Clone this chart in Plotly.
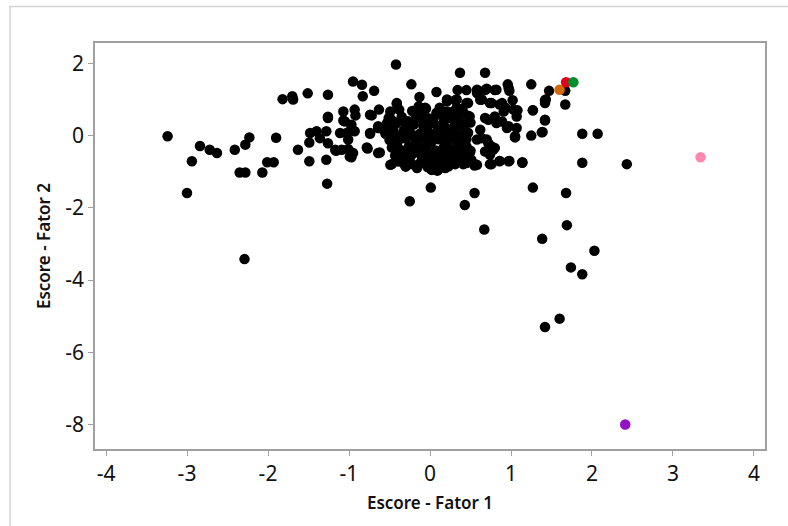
import plotly.graph_objects as go

# Black points: (Escore - Fator 1, Escore - Fator 2)
black_x = [
    -3.24, -3.00, -2.94, -2.84, -2.72, -2.63, -2.41, -2.28, -2.23, -2.35, -2.28, -2.07,
    -2.01, -1.93, -1.90, -1.82, -1.70, -1.69, -1.51, -1.26, -1.26, -1.63, -1.49, -1.28,
    -1.27, -1.48, -1.49, -1.40, -1.36, -1.28, -1.26, -1.17, -1.09, -0.99, -0.95, -1.07,
    -1.05, -0.93, -0.97, -0.99, -1.03, -1.11, -1.01, -0.93, -0.95, -0.84, -0.69, -0.83,
    -0.74, -0.63, -0.74, -0.77, -0.64, -0.42, -0.49, -0.41, -1.16, -1.01, -0.97, -0.78,
    -0.62, -0.74, -0.59, -0.47, -0.31, -0.22, -0.04, 0.09, 0.15, 0.31, 0.41, 0.55,
    0.74, 0.86, 0.98, 1.14, 1.05, 1.25, 1.38, 1.42, 1.27, 1.08, 1.02, 1.67,
    1.42, 1.47, 1.67, 1.25, 0.96, 0.98, 0.80, 0.68, 0.59, 0.45, 0.34, 0.31,
    0.08, -0.13, -0.23, 0.37, 0.68, -0.92, -0.72, -1.07, -1.26, 1.88, 2.07, 1.88,
    2.43, 1.43, 1.42, 1.27, 1.42, 1.39, 1.14, 0.97, 0.86, 0.76, 1.27, 1.68,
    0.01, 0.55, -0.25, 0.43, 1.385, 1.69, 2.03, 1.74, 1.88, 1.42, 1.60, 0.67,
    -2.29, -0.41, -0.14, 0.21, -0.64, -0.51, -0.31, -0.16, 0.02, 0.19, -0.39, 0.58,
    0.70, 0.82, 0.97, 1.03, 1.07, 0.47, 0.64, 0.76, 0.86, 0.93, 0.68, 0.80,
    0.89, 0.97, 1.07, 1.05, 0.72, 0.80, 0.74, 0.68, 0.51, 0.56, 0.43, 0.45,
    0.62, 0.64, 0.35, 0.43, 0.41, 0.27, 0.62, 0.74, 0.89, 0.91, 0.72, 0.82,
    0.95, 0.70, 0.76, 0.78, 0.58, 0.49, 0.49, 0.45, 0.58, 0.21, 0.33, 0.45,
    0.58, 0.12, -0.06, 0.21, 0.33, -0.49, -0.53, -0.64, 0.00, 0.10, 0.43, 0.56,
    -0.38, -0.22, -0.05, 0.12, 0.28, 0.40,
    -0.48, -0.35, -0.27, -0.15, -0.02, 0.08, 0.18, 0.26, 0.36, 0.47,
    -0.52, -0.42, -0.30, -0.20, -0.08, 0.03, 0.13, 0.22, 0.31, 0.42, 0.50,
    -0.55, -0.45, -0.36, -0.25, -0.12, -0.03, 0.06, 0.16, 0.27, 0.37, 0.47,
    -0.50, -0.40, -0.30, -0.18, -0.07, 0.02, 0.11, 0.21, 0.32, 0.41,
    -0.47, -0.36, -0.26, -0.14, -0.04, 0.07, 0.17, 0.28, 0.38, 0.50,
    -0.43, -0.33, -0.22, -0.10, 0.00, 0.09, 0.20, 0.30, 0.40,
    -0.38, -0.25, -0.12, 0.05, 0.14, 0.25, 0.35,
    -0.32, 0.10, -0.15, 0.25, -0.05, 0.20, -0.40, 0.33, -0.10, 0.45, 0.15, -0.28,
    0.00, -0.20, 0.30,
    -0.44, -0.33, -0.21, -0.09, 0.04, 0.17, 0.29, 0.38, -0.46, -0.34, -0.23, -0.11,
    0.01, 0.13, 0.24, 0.35, -0.41, -0.29, -0.17, -0.05, 0.06, 0.19, 0.33, 0.44,
    -0.30, -0.03, 0.23, -0.18, 0.08, 0.36,
]
black_y = [
    -0.02, -1.59, -0.71, -0.29, -0.39, -0.48, -0.39, -0.25, -0.05, -1.02, -1.02, -1.02,
    -0.74, -0.74, -0.06, 1.01, 1.09, 1.00, 1.17, 1.13, 0.52, -0.39, -0.71, -0.67,
    -1.33, 0.07, -0.19, 0.12, -0.07, 0.12, -0.21, -0.39, -0.39, -0.58, -0.48, 0.67,
    0.39, 0.72, 0.30, 0.12, 0.07, 0.07, -0.11, 0.12, 1.50, 1.41, 1.24, 1.09,
    0.58, 0.72, 0.07, -0.36, -0.48, 1.97, -0.81, 0.90, -0.42, -0.37, -0.60, -0.33,
    -0.47, 0.05, 0.19, -0.79, -0.79, -0.79, -0.79, -0.97, -0.79, -0.79, -0.79, -0.83,
    -0.79, -0.70, -0.70, -0.75, -0.05, 0.00, 0.09, 0.42, 0.70, 0.70, 0.98, 0.86,
    0.98, 1.24, 1.24, 1.42, 1.42, 1.24, 1.26, 1.26, 1.21, 1.26, 1.26, 0.98,
    1.21, 1.07, 1.42, 1.74, 1.74, 0.56, 0.56, 0.42, 0.49, 0.05, 0.05, -0.75,
    -0.79, 1.00, 0.90, 0.70, 0.44, 0.10, -0.74, -0.71, -0.71, -0.79, -1.44, -1.59,
    -1.44, -1.59, -1.82, -1.92, -2.86, -2.48, -3.19, -3.65, -3.84, -5.30, -5.07, -2.60,
    -3.42, 0.88, 0.81, 0.95, 0.21, 0.49, -0.81, -0.90, -0.95, -0.90, -0.58, 1.27,
    1.30, 1.27, 1.32, 0.72, 0.53, 0.90, 1.00, 0.90, 0.86, 0.77, 0.49, 0.53,
    0.39, 0.26, 0.21, -0.02, -0.21, -0.34, -0.53, -0.44, -0.67, -0.81, -0.53, -0.30,
    0.16, -0.07, 0.30, 0.30, 0.63, 0.58, 0.99, 0.90, 0.90, 0.67, 0.44, 0.35,
    0.21, -0.11, -0.30, -0.39, -0.11, 0.53, -0.48, -0.76, -0.81, 1.00, 1.00, 0.90,
    1.18, 0.77, 0.77, 0.67, 0.77, 0.67, 0.35, 0.26, -0.90, -0.95, -0.76, -0.81,
    0.72, 0.68, 0.75, 0.70, 0.66, 0.74,
    0.45, 0.52, 0.40, 0.55, 0.48, 0.58, 0.45, 0.52, 0.41, 0.55,
    0.28, 0.33, 0.22, 0.31, 0.25, 0.35, 0.27, 0.18, 0.30, 0.20, 0.36,
    0.05, 0.12, 0.02, 0.10, 0.06, 0.14, 0.03, 0.11, 0.05, -0.02, 0.08,
    -0.12, -0.18, -0.08, -0.15, -0.06, -0.17, -0.10, -0.20, -0.12, -0.22,
    -0.33, -0.40, -0.30, -0.37, -0.29, -0.41, -0.33, -0.38, -0.30, -0.42,
    -0.55, -0.62, -0.52, -0.58, -0.66, -0.53, -0.61, -0.55, -0.63,
    -0.72, -0.70, -0.76, -0.78, -0.70, -0.74, -0.70,
    0.15, 0.20, -0.25, -0.05, 0.40, 0.62, -0.45, 0.55, 0.62, -0.10, -0.48, -0.45,
    0.05, 0.00, 0.15,
    0.38, 0.42, 0.36, 0.44, 0.39, 0.37, 0.43, 0.35, -0.02, -0.05, 0.01, -0.03,
    -0.01, -0.04, 0.00, -0.06, -0.46, -0.49, -0.45, -0.48, -0.47, -0.44, -0.46, -0.50,
    -0.86, -0.87, -0.85, 0.60, 0.63, 0.62,
]

# Highlighted points
hl_x = [1.60, 1.68, 1.77, 3.34, 2.41]
hl_y = [1.27, 1.48, 1.48, -0.60, -8.00]
hl_colors = ["#d26a00", "#e0001a", "#00902e", "#ff88b0", "#9312c4"]

x_ticks = [-4, -3, -2, -1, 0, 1, 2, 3, 4]
y_ticks = [-8, -6, -4, -2, 0, 2]

font_family = "Noto Sans"

fig = go.Figure()
fig.add_trace(go.Scatter(
    x=black_x, y=black_y, mode="markers",
    marker=dict(color="black", size=10.5, line=dict(width=0)),
    hoverinfo="x+y", showlegend=False,
))
fig.add_trace(go.Scatter(
    x=hl_x, y=hl_y, mode="markers",
    marker=dict(color=hl_colors, size=10.5, line=dict(width=0)),
    hoverinfo="x+y", showlegend=False,
))

axis_common = dict(
    showline=True, linecolor="#a0a0a0", linewidth=1.5, mirror=True,
    ticks="outside", ticklen=5, tickwidth=1, tickcolor="#a0a0a0",
    showgrid=False, zeroline=False,
    tickfont=dict(family=font_family, size=21, color="#111111"),
)

fig.update_layout(
    width=788, height=526,
    margin=dict(l=95, r=23, t=43, b=77),
    paper_bgcolor="white", plot_bgcolor="white",
    xaxis=dict(range=[-4.136, 4.136], tickvals=x_ticks,
               ticktext=[str(v) for v in x_ticks],
               title=dict(text="Escore - Fator 1", standoff=11,
                          font=dict(family=font_family, size=17, color="#111111", weight=600)),
               **axis_common),
    yaxis=dict(range=[-8.68, 2.565], tickvals=y_ticks,
               ticktext=[str(v) for v in y_ticks],
               title=dict(text="Escore - Fator 2", standoff=10,
                          font=dict(family=font_family, size=17, color="#111111", weight=600)),
               **axis_common),
    shapes=[dict(type="rect", xref="paper", yref="paper",
                 x0=-0.1269, x1=1.06, y0=-0.25, y1=1.0899,
                 line=dict(color="#d4d4d4", width=1.5), fillcolor="rgba(0,0,0,0)",
                 layer="below")],
)

fig.write_html("out.html")
